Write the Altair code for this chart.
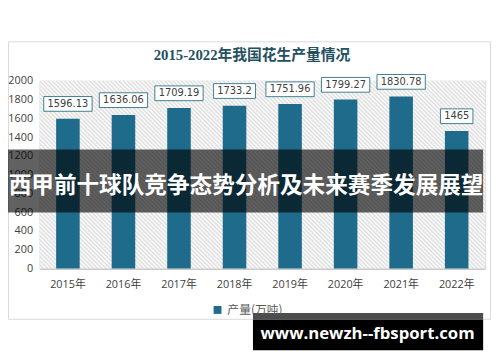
import altair as alt
import pandas as pd

# ---- data ----
YEARS = ["2015年", "2016年", "2017年", "2018年", "2019年", "2020年", "2021年", "2022年"]
VALUES = [1596.13, 1636.06, 1709.19, 1733.2, 1751.96, 1799.27, 1830.78, 1465]
LABELS = ["1596.13", "1636.06", "1709.19", "1733.2", "1751.96", "1799.27", "1830.78", "1465"]
SERIES = "产量(万吨)"
Y_TICKS = [0, 200, 400, 600, 800, 1000, 1200, 1400, 1600, 1800, 2000]
TITLE = "2015-2022年我国花生产量情况"
BANNER = "西甲前十球队竞争态势分析及未来赛季发展展望"
WATERMARK = "www.newzh--fbsport.com"

W, H = 453, 191
BAR = "#1f6b8c"
AXFONT = "Open Sans, Noto Sans CJK SC"

df = pd.DataFrame({"year": YEARS, "value": VALUES, "label": LABELS,
                   "series": [SERIES] * len(YEARS)})
one = pd.DataFrame({"k": [0]})

# hatched plot background (diagonal stripes via a linear gradient)
span = 455.4
period = 3.0
stops = []
k = 0
while True:
    t0 = k * period / span
    t1 = (k + 0.5) * period / span
    if t0 > 1:
        break
    stops.append(alt.GradientStop(offset=t0, color="#dcdcdc"))
    if t1 <= 1:
        stops.append(alt.GradientStop(offset=t1, color="#ffffff"))
    k += 1
hatch = alt.LinearGradient(gradient="linear", stops=stops, x1=0, y1=1, x2=1.2071, y2=0.4911)

xscale = alt.Scale(paddingInner=0.576, paddingOuter=0.30)
yscale = alt.Scale(domain=[0, 2000], nice=False)
xaxis = alt.Axis(title=None, labelAngle=0, ticks=False, domainColor="#bfbfbf",
                 domainWidth=1.5, labelPadding=10, labelFont=AXFONT,
                 labelFontSize=11, labelColor="#404040")
yaxis = alt.Axis(title=None, values=Y_TICKS, format="d", domain=False, ticks=False,
                 grid=False, labelOverlap=False, labelPadding=7, labelFont=AXFONT,
                 labelFontSize=11, labelColor="#404040")

xenc = alt.X("year:N", sort=YEARS, scale=xscale, axis=xaxis)
yenc = alt.Y("value:Q", scale=yscale, axis=yaxis)

frame = alt.Chart(one).mark_rect(filled=False, stroke="#d9d9d9", strokeWidth=1).encode(
    x=alt.value(-31.5), x2=alt.value(458.5), y=alt.value(-39.5), y2=alt.value(242.5))

bg = alt.Chart(one).mark_rect(fill=hatch).encode(
    x=alt.value(0), x2=alt.value(W), y=alt.value(0), y2=alt.value(H))

bars = alt.Chart(df).mark_bar().encode(
    x=xenc, y=yenc,
    color=alt.Color("series:N", scale=alt.Scale(range=[BAR]),
                    legend=alt.Legend(title=None, orient="none", legendX=175, legendY=227,
                                      symbolType="square", symbolSize=64, symbolStrokeWidth=0,
                                      labelFont="Noto Sans CJK SC", labelFontSize=12,
                                      labelColor="#595959", padding=0, labelOffset=4)))

boxes = alt.Chart(df).transform_calculate(
    h="length(datum.label) * 3.25 + 3.5 - (indexof(datum.label, '.') >= 0 ? 1.7 : 0)"
).transform_calculate(
    box="'M' + (-datum.h) + ',-7.5H' + datum.h + 'V7.5H' + (-datum.h) + 'Z'"
).mark_point(filled=True, fill="white", stroke="#3f7f8f", strokeWidth=1, opacity=1,
             size=4, yOffset=-15).encode(
    x=xenc, y=yenc,
    shape=alt.Shape("box:N", scale=None))

texts = alt.Chart(df).mark_text(font="DejaVu Sans", fontSize=10, color="#404040",
                                baseline="middle", yOffset=-15).encode(
    x=xenc, y=yenc, text="label:N")

title = alt.Chart(one).mark_text(text=TITLE, font="Liberation Serif, Noto Sans CJK SC",
                                 fontSize=15, fontWeight="bold", color="#24505f",
                                 align="center", baseline="middle").encode(
    x=alt.value(216), y=alt.value(-26))

banner = alt.Chart(one).mark_rect(fill="black", opacity=0.62).encode(
    x=alt.value(-32), x2=alt.value(451), y=alt.value(70), y2=alt.value(134))

banner_text = alt.Chart(one).mark_text(text=BANNER, font="Noto Sans CJK SC", fontSize=23,
                                       fontWeight="bold", color="white", align="center",
                                       baseline="middle").encode(
    x=alt.value(210), y=alt.value(107))

wm_top = alt.Chart(one).mark_rect(fill="#4d4d4d").encode(
    x=alt.value(217), x2=alt.value(451), y=alt.value(236), y2=alt.value(243))
wm_box = alt.Chart(one).mark_rect(fill="black").encode(
    x=alt.value(217), x2=alt.value(451), y=alt.value(243), y2=alt.value(274))
wm_text = alt.Chart(one).mark_text(text=WATERMARK, font="Open Sans", fontSize=17,
                                   fontWeight="bold", color="white", align="center",
                                   baseline="middle").encode(
    x=alt.value(333.5), y=alt.value(258))

chart = alt.layer(frame, bg, bars, boxes, texts, title, banner, banner_text,
                  wm_top, wm_box, wm_text).properties(
    width=W, height=H,
    autosize=alt.AutoSizeParams(type="none"),
    padding={"left": 32, "top": 71, "right": 7, "bottom": 92},
).configure_view(stroke=None).configure(background="white")

chart.save("out.html", embed_options={"renderer": "svg", "actions": False})
